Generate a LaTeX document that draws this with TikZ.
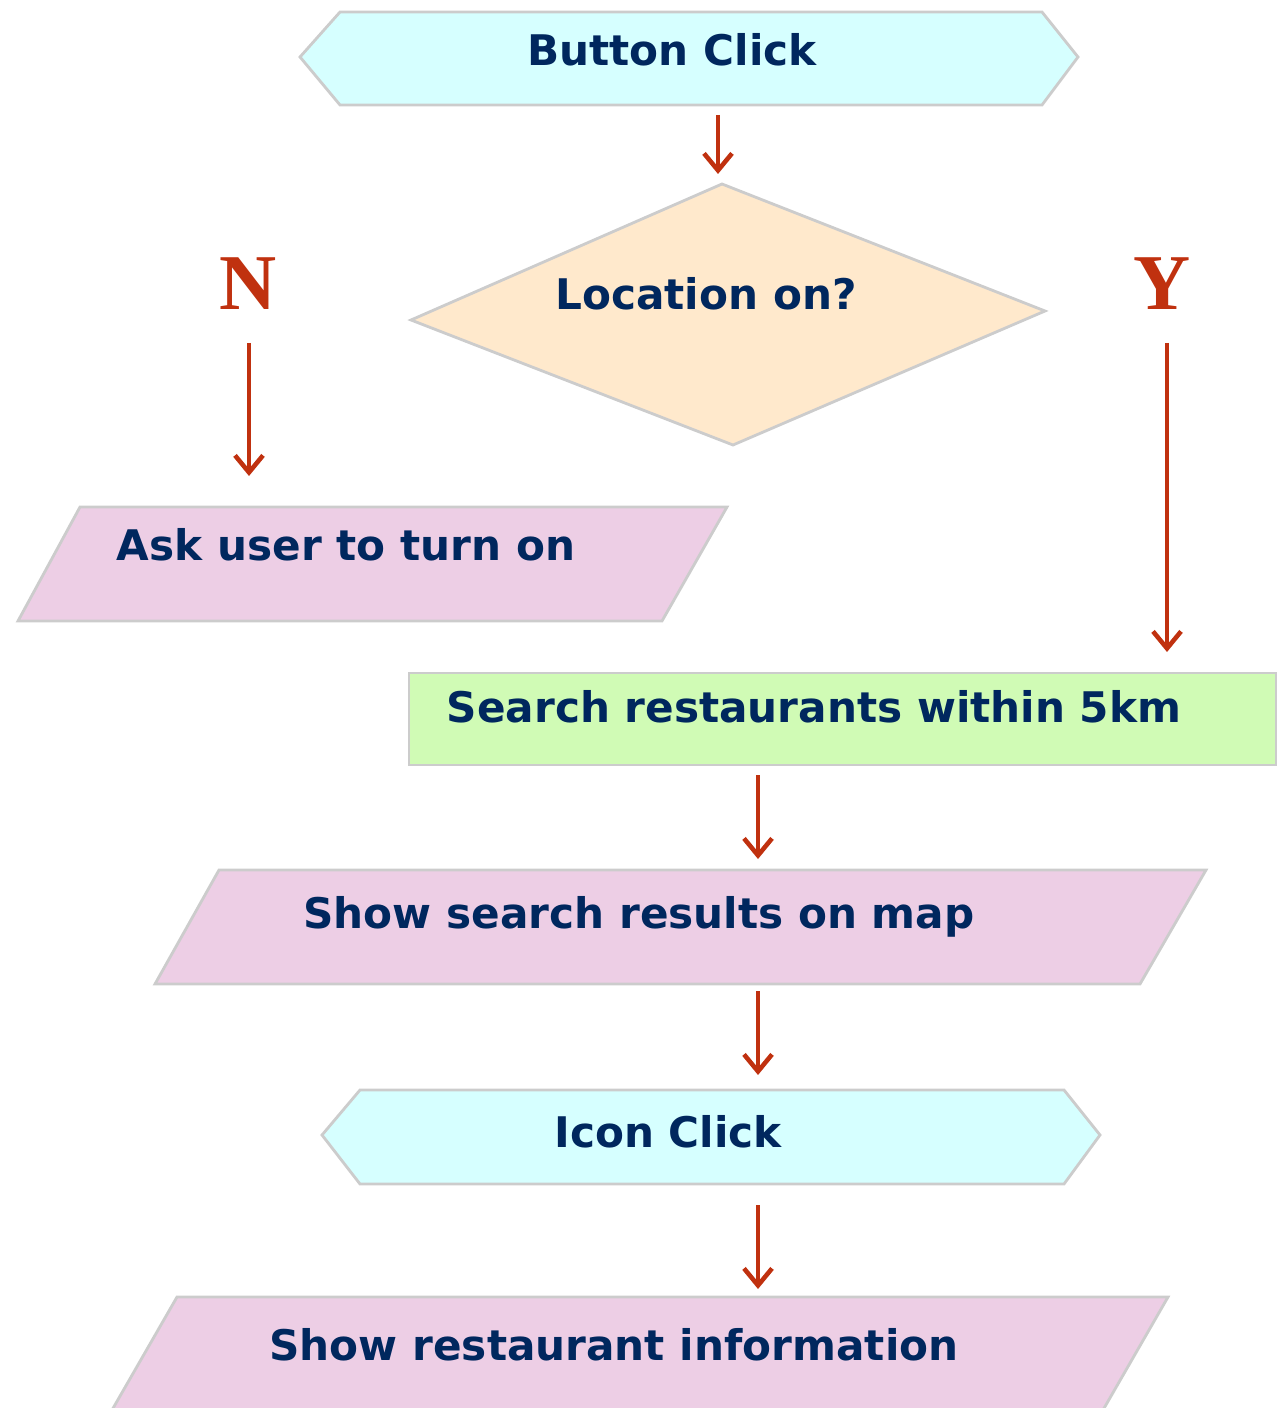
\documentclass[tikz,border=0pt]{standalone}
\usepackage{fontspec}
\setmainfont{DejaVu Sans}
\newfontfamily\ynfont{Liberation Serif}
\usetikzlibrary{arrows.meta}
\usetikzlibrary{positioning}

\definecolor{navy}{HTML}{00275E}
\definecolor{flowred}{HTML}{C0310F}
\definecolor{edgegray}{HTML}{CCCCCC}
\definecolor{eventcyan}{HTML}{D6FFFF}
\definecolor{decisionorange}{HTML}{FFE9CC}
\definecolor{iopink}{HTML}{EDCEE5}
\definecolor{processgreen}{HTML}{D0FBB5}

\tikzset{
    shapebox/.style={draw=edgegray, line width=0.8pt},
    boxtext/.style={text=navy, font=\fontsize{12}{14}\selectfont\bfseries, anchor=base, inner sep=0pt},
    branch/.style={text=flowred, font=\ynfont\fontsize{22.5}{26}\selectfont\bfseries, anchor=base, inner sep=0pt},
    flow/.style={draw=flowred, line width=1.3pt, -{Straight Barb[length=1.7mm,width=2.8mm]}}
}

\begin{document}
\begin{tikzpicture}[x=0.1mm,y=-0.1mm]
            \useasboundingbox (0,0) rectangle (1282,1408);
            \clip (0,0) rectangle (1282,1408);
            % shapes
            \filldraw[shapebox, fill=eventcyan] (300,57) -- (340,12) -- (1042,12) -- (1078,57) -- (1042,105) -- (340,105) -- cycle;
            \filldraw[shapebox, fill=decisionorange] (722,184) -- (1045,311) -- (733,445) -- (411,320) -- cycle;
            \filldraw[shapebox, fill=iopink] (80,507) -- (727,507) -- (662,621) -- (18,621) -- cycle;
            \filldraw[shapebox, fill=processgreen] (409,673) rectangle (1276,765);
            \filldraw[shapebox, fill=iopink] (219,870) -- (1206,870) -- (1140,984) -- (155,984) -- cycle;
            \filldraw[shapebox, fill=eventcyan] (322,1135) -- (360,1090) -- (1064,1090) -- (1100,1135) -- (1064,1184) -- (360,1184) -- cycle;
            \filldraw[shapebox, fill=iopink] (177,1297) -- (1168,1297) -- (1080,1450) -- (89,1450) -- cycle;
            % texts
            \node[boxtext] (button) at (672,66) {Button Click};
            \node[boxtext] (location) at (706,309) {Location on?};
            \node[branch] (no) at (248,310) {N};
            \node[branch] (yes) at (1162,310) {Y};
            \node[boxtext] (ask) at (346,560) {Ask user to turn on};
            \node[boxtext] (search) at (814,722) {Search restaurants within 5km};
            \node[boxtext] (results) at (639,928) {Show search results on map};
            \node[boxtext] (icon) at (668,1147) {Icon Click};
            \node[boxtext] (info) at (614,1360) {Show restaurant information};
            % arrow ends
            \coordinate (b1) at (718,115);  \coordinate (l1) at (718,174);
            \coordinate (nb) at (249,343);  \coordinate (nl) at (249,476);
            \coordinate (yb) at (1167,343); \coordinate (yl) at (1167,652);
            \coordinate (b3) at (758,775);  \coordinate (l3) at (758,859);
            \coordinate (b4) at (758,991);  \coordinate (l4) at (758,1075);
            \coordinate (b5) at (758,1205); \coordinate (l5) at (758,1289);
            \draw[flow] (b1) -- (l1);
            \draw[flow] (nb) -- (nl);
            \draw[flow] (yb) -- (yl);
            \draw[flow] (b3) -- (l3);
            \draw[flow] (b4) -- (l4);
            \draw[flow] (b5) -- (l5);
\end{tikzpicture}
\end{document}
